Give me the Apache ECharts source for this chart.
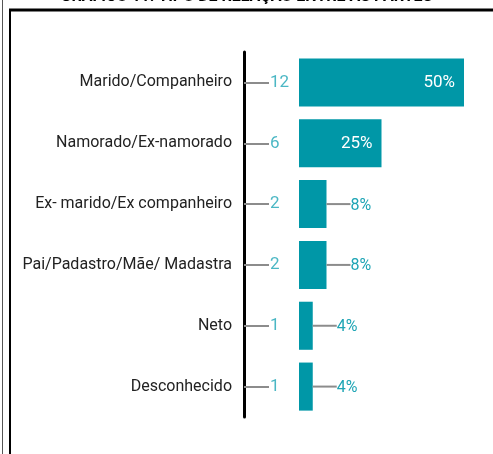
<!DOCTYPE html>
<html><head><meta charset="utf-8">
<script src="https://cdn.jsdelivr.net/npm/echarts@6/dist/echarts.min.js"></script>
<style>html,body{margin:0;padding:0;background:#fff}#c{width:493px;height:454px}</style>
</head><body><div id="c"></div>
<script>
const title = 'GRÁFICO 11: TIPO DE RELAÇÃO ENTRE AS PARTES';
const categories = ['Marido/Companheiro','Namorado/Ex-namorado','Ex- marido/Ex companheiro','Pai/Padastro/Mãe/ Madastra','Neto','Desconhecido'];
const counts = [12, 6, 2, 2, 1, 1];
const percents = ['50%','25%','8%','8%','4%','4%'];

const teal = '#0097a7';
const labelTeal = '#1ea5b5';
const chart = echarts.init(document.getElementById('c'), null, {renderer:'canvas'});
const insideIdx = [0,1];
chart.setOption({
  animation:false,
  graphic:[
    {type:'text', left:'center', top:-11, style:{text:title, font:'bold 16px Roboto', fill:'#000'}},
    {type:'line', shape:{x1:2.5,y1:0,x2:2.5,y2:454}, style:{stroke:'#555', lineWidth:1}},
    {type:'line', shape:{x1:10,y1:9,x2:10,y2:454}, style:{stroke:'#000', lineWidth:2}},
    {type:'line', shape:{x1:9,y1:10,x2:493,y2:10}, style:{stroke:'#000', lineWidth:3}}
  ],
  grid:{left:244, top:52, width:247.5, height:365, containLabel:false},
  xAxis:{type:'value', min:-4, max:14, show:false},
  yAxis:{type:'category', data:categories, inverse:true,
    axisLine:{show:true, onZero:false, lineStyle:{color:'#000', width:3}},
    axisTick:{show:true, inside:true, length:25, alignWithLabel:true, lineStyle:{color:'#8c8c8c', width:2}},
    axisLabel:{color:'#222', fontFamily:'Roboto', fontSize:16, margin:12},
    splitLine:{show:false}
  },
  series:[
    {type:'bar', barCategoryGap:'21%', itemStyle:{color:teal},
      data:counts.map((v,i)=>({value:v,
        label: insideIdx.includes(i) ?
          {show:true, position:'insideRight', distance:9, color:'#fff', fontFamily:'Roboto', fontSize:17, formatter:percents[i]} :
          {show:true, position:'right', distance:0, formatter:'{l|}{p|'+percents[i]+'}',
            rich:{l:{width:24, height:2, backgroundColor:'#8c8c8c'}, p:{color:labelTeal, fontFamily:'Roboto', fontSize:16, padding:[3,0,0,0]}}}
      }))
    },
    {type:'scatter', symbolSize:0, silent:true,
      data:counts.map((v,i)=>[-4, i, v]),
      label:{show:true, position:'right', distance:26, color:labelTeal, fontFamily:'Roboto', fontSize:17, formatter:p=>p.value[2]}
    }
  ]
});
</script></body></html>
